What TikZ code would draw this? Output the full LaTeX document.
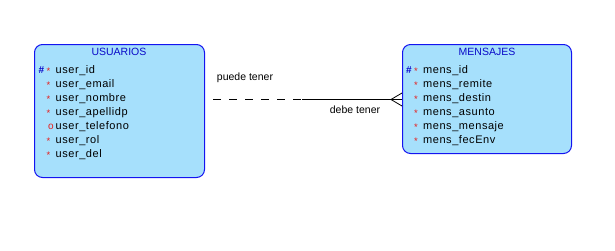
\documentclass[tikz,border=0pt]{standalone}
\usepackage{fontspec}
\setmainfont{Liberation Sans}
\newfontfamily\attrfont[LetterSpace=5]{Liberation Sans}
\definecolor{entfill}{RGB}{166,224,252}
\definecolor{entline}{RGB}{20,20,240}
\definecolor{titleblue}{RGB}{10,10,200}
\definecolor{reqred}{RGB}{230,30,30}
\begin{document}
\begin{tikzpicture}[x=1pt,y=-1pt,
  entity/.style={draw=entline, line width=1pt, fill=entfill, rounded corners=8pt,
    anchor=north west, inner sep=0pt},
  etitle/.style={anchor=base, text=titleblue, font=\fontsize{10.5}{12}\selectfont, inner sep=0pt},
  attr/.style={anchor=base west, font=\attrfont\fontsize{11}{13}\selectfont, inner sep=0pt},
  pk/.style={anchor=base west, text=titleblue, font=\fontsize{10}{12}\selectfont\bfseries, inner sep=0pt},
  req/.style={anchor=base west, text=reqred, font=\fontsize{9.5}{11}\selectfont, inner sep=0pt},
  opt/.style={anchor=base west, text=reqred, font=\fontsize{10}{12}\selectfont, inner sep=0pt},
  rlabel/.style={anchor=base, font=\fontsize{10.5}{12}\selectfont, inner sep=0pt},
  rel/.style={line width=0.8pt, black}]
\useasboundingbox (0,0) rectangle (615,250);

% entity boxes
\node[entity, minimum width=170pt, minimum height=133pt] (usu) at (34,44) {};
\node[entity, minimum width=169pt, minimum height=109pt] (men) at (402,44) {};

% USUARIOS
\node[etitle] (usutitle) at (119,55.5) {USUARIOS};
\node[pk]  (usupk) at (38.5,73) {\#};
\foreach \name/\y [count=\i] in {user_id/73, user_email/87, user_nombre/101, user_apellidp/115, user_rol/143, user_del/157}{
  \node[req] (usustar\i) at (46.5,\y+1) {*};
  \node[attr] (usuattr\i) at (55.5,\y) {\detokenize\expandafter{\name}};
}
\node[opt] (usuopt) at (48,129) {o};
\node[attr] (usutel) at (55.5,129) {user\_telefono};

% MENSAJES
\node[etitle] (mentitle) at (487,55.5) {MENSAJES};
\node[pk]  (menpk) at (406,73) {\#};
\foreach \name/\y [count=\i] in {mens_id/73, mens_remite/87, mens_destin/101, mens_asunto/115, mens_mensaje/129, mens_fecEnv/143}{
  \node[req] (menstar\i) at (414,\y+1) {*};
  \node[attr] (menattr\i) at (423,\y) {\detokenize\expandafter{\name}};
}

% relationship: optional side dashed, mandatory side solid with crow's foot
\coordinate (a) at (usu.east |- 0,99.5);
\coordinate (mid) at (302,99.5);
\coordinate (b) at (men.west |- 0,99.5);
\coordinate (foot) at (391,99.5);
\draw[rel, dash pattern=on 8pt off 8pt, dash phase=8pt] (a) -- (mid);
\draw[rel] (mid) -- (b);
\draw[rel] (b |- 0,93) -- (foot) -- (b |- 0,106);

\node[rlabel] (lbl1) at (245,80) {puede tener};
\node[rlabel] (lbl2) at (355,113) {debe tener};
\end{tikzpicture}
\end{document}
